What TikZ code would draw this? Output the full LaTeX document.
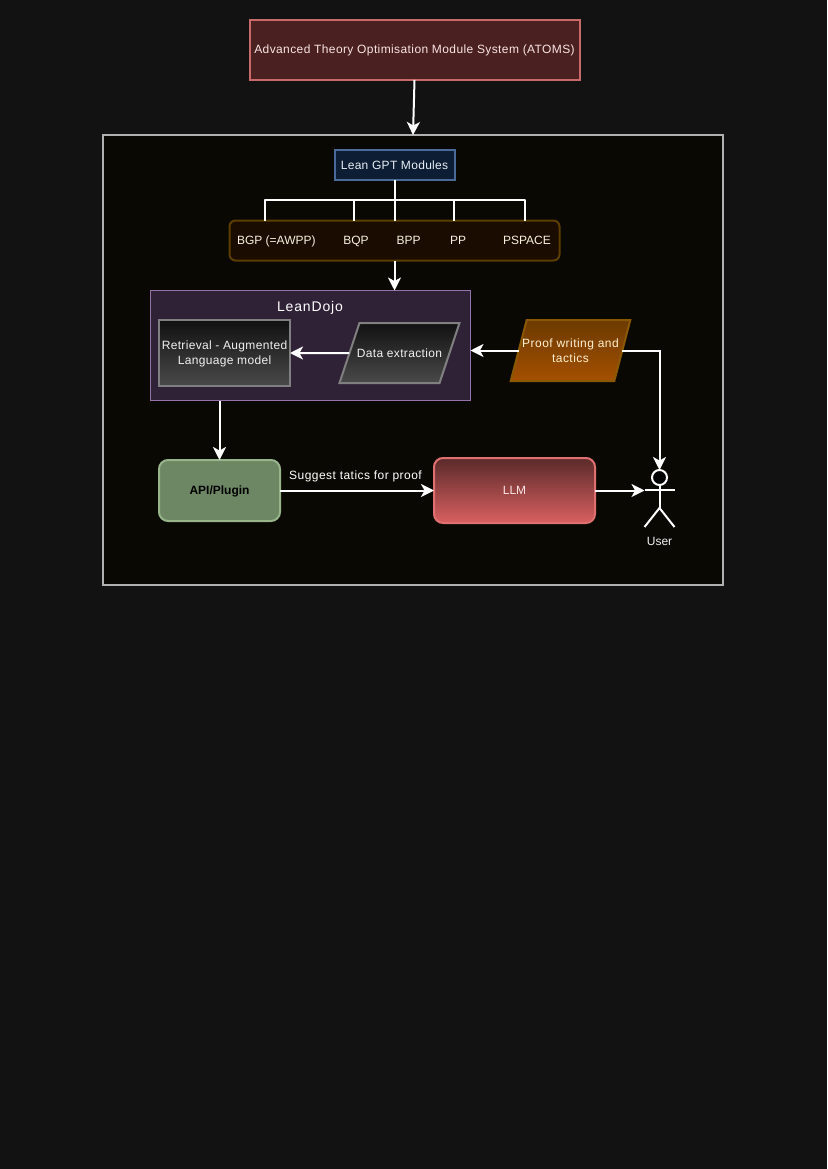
\documentclass[tikz,border=0pt]{standalone}
\usepackage{fontspec}
\setmainfont{Liberation Sans}
\usetikzlibrary{arrows.meta, positioning, shapes.geometric}

\definecolor{pagebg}{HTML}{121212}
\definecolor{panelbg}{HTML}{0A0803}
\definecolor{panelline}{HTML}{B0B0B0}
\definecolor{atomsline}{HTML}{C86A6A}
\definecolor{atomsfill}{HTML}{4A2020}
\definecolor{pinktext}{HTML}{FAE4E4}
\definecolor{leanline}{HTML}{4A6B9A}
\definecolor{leanfill}{HTML}{0D1D33}
\definecolor{leantext}{HTML}{E8EEF5}
\definecolor{bandline}{HTML}{5C3F00}
\definecolor{bandfill}{HTML}{1A0D00}
\definecolor{bandtext}{HTML}{F8F0E1}
\definecolor{dojoline}{HTML}{9673A6}
\definecolor{dojofill}{HTML}{2F2236}
\definecolor{greyline}{HTML}{808080}
\definecolor{greytop}{HTML}{111111}
\definecolor{greybot}{HTML}{4A4A4A}
\definecolor{greytext}{HTML}{F0F0F0}
\definecolor{proofline}{HTML}{8A5800}
\definecolor{prooftop}{HTML}{6B3A00}
\definecolor{proofbot}{HTML}{A55000}
\definecolor{prooftext}{HTML}{FFF0D2}
\definecolor{apiline}{HTML}{98B48A}
\definecolor{apifill}{HTML}{6D8764}
\definecolor{llmline}{HTML}{E07070}
\definecolor{llmtop}{HTML}{5A2A2A}
\definecolor{llmbot}{HTML}{D96060}

\begin{document}
\begin{tikzpicture}[
    x=1pt, y=1pt,
    every node/.style={outer sep=0pt, inner sep=0pt, font=\fontsize{12}{14.5}\selectfont, align=center},
    box/.style={draw, line width=2pt, minimum width=#1},
    slant/.style={draw, line width=2pt, trapezium, inner xsep=#1},
    spaced/.style={font=\fontsize{12}{15}\selectfont\addfontfeature{LetterSpace=#1}},
    oneline/.style={text height=9pt, text depth=1pt},
    bandlbl/.style={oneline, text=bandtext},
    arr/.style={-{Stealth[length=13pt, width=13pt, inset=3.5pt]}, line width=2pt, white},
    busline/.style={line width=2pt, white, line join=round},
    actor/.style={line width=2pt, white}
  ]
    \useasboundingbox (0,0) rectangle (827,-1169);
    \fill[pagebg] (0,0) rectangle (827,-1169);

    \node[box=620pt, minimum height=450pt, draw=panelline, fill=panelbg] (panel) at (413,-360) {};
    \node[box=330pt, minimum height=60pt, draw=atomsline, fill=atomsfill, text=pinktext, oneline, spaced=3.3] (atoms) at (414.5,-50) {Advanced Theory Optimisation Module System (ATOMS)};

    % modules
    \node[box=120pt, minimum height=30pt, draw=leanline, fill=leanfill, text=leantext, oneline, spaced=2.6] (lean) at (394.5,-165.5) {Lean GPT Modules};
    \node[box=330pt, minimum height=40pt, below=40pt of lean, rounded corners=6pt, draw=bandline, fill=bandfill] (band) {};
    \node[bandlbl] (bgp) at (276.3,-240) {BGP (=AWPP)};
    \node[bandlbl] (bqp) at (356,-240) {BQP};
    \node[bandlbl] (bpp) at (408.7,-240) {BPP};
    \node[bandlbl] (pp) at (458,-240) {PP};
    \node[bandlbl] (pspace) at (527,-240) {PSPACE};
    \coordinate (busa) at (264.5,-200);
    \coordinate (busb) at (354,-200);
    \coordinate (busc) at (454,-200);
    \coordinate (busd) at (524.5,-200);
    \draw[busline] (lean) -- (band);
    \draw[busline] (busa |- band.north) -- (busa) -- (busd) -- (busd |- band.north);
    \draw[busline] (busb) -- (busb |- band.north);
    \draw[busline] (busc) -- (busc |- band.north);

    % leandojo
    \node[draw=dojoline, line width=1pt, minimum width=320pt, minimum height=110pt, fill=dojofill] (dojo) at (310.5,-345.5) {};
    \node[font=\fontsize{14}{16}\selectfont\addfontfeature{LetterSpace=6}, text=white, oneline] (dojotitle) at (310,-307) {LeanDojo};
    \node[box=131pt, minimum height=66pt, draw=greyline, top color=greytop, bottom color=greybot, text=greytext, spaced=2.8, text depth=0pt] (retrieval) at (224.5,-353) {Retrieval - Augmented\\Language model};
    \node[slant=-2.5pt, text height=34pt, text depth=26pt, trapezium left angle=71.6, trapezium right angle=108.4, draw=greyline, top color=greytop, bottom color=greybot, text=greytext, spaced=2.8] (data) at (399.5,-353) {Data extraction};
    \node[slant=-4.5pt, text height=42.6pt, text depth=18.4pt, trapezium left angle=75.3, trapezium right angle=104.7, draw=proofline, top color=prooftop, bottom color=proofbot, text=prooftext, spaced=3.9] (proof) at (570.5,-350.5) {Proof writing and\\tactics};

    % lower row
    \node[box=121pt, minimum height=61pt, rounded corners=9pt, draw=apiline, fill=apifill, text=black, oneline, font=\fontsize{12}{14.5}\selectfont\bfseries] (api) at (219.5,-490.5) {API/Plugin};
    \node[box=161pt, minimum height=65pt, right=154pt of api, rounded corners=9pt, draw=llmline, top color=llmtop, bottom color=llmbot, text=pinktext, oneline] (llm) {LLM};
    \node[text=white, oneline, spaced=3.8] (suggest) at (355.5,-475.5) {Suggest tatics for proof};

    % user
    \node[circle, draw=white, line width=2pt, fill=black, minimum size=15pt] (userhead) at (659.5,-477.5) {};
    \coordinate (userarml) at (644.5,-489.5);
    \coordinate (userarmr) at (674.5,-489.5);
    \coordinate (userhip) at (659.5,-508);
    \coordinate (userfootl) at (644.5,-527);
    \coordinate (userfootr) at (674.5,-527);
    \draw[actor] (userhead.south) -- (userhip);
    \draw[actor] (userarml) -- (userarmr);
    \draw[actor] (userfootl) -- (userhip) -- (userfootr);
    \node[text=greytext, oneline] (user) at (659.5,-541) {User};

    \draw[arr] (atoms.south) -- (panel.north);
    \draw[arr] (band.south) -- (dojo.north -| band.south);
    \draw[arr] (data.west) -- (retrieval.east);
    \draw[arr] (proof.west) -- (proof.west -| dojo.east);
    \draw[arr] (proof.east) -| (userhead.north);
    \draw[arr] (api.north |- dojo.south) -- (api.north);
    \draw[arr] (api.east) -- (llm.west);
    \draw[arr] (llm.east) -- (userarml |- llm.east);
  \end{tikzpicture}
\end{document}
